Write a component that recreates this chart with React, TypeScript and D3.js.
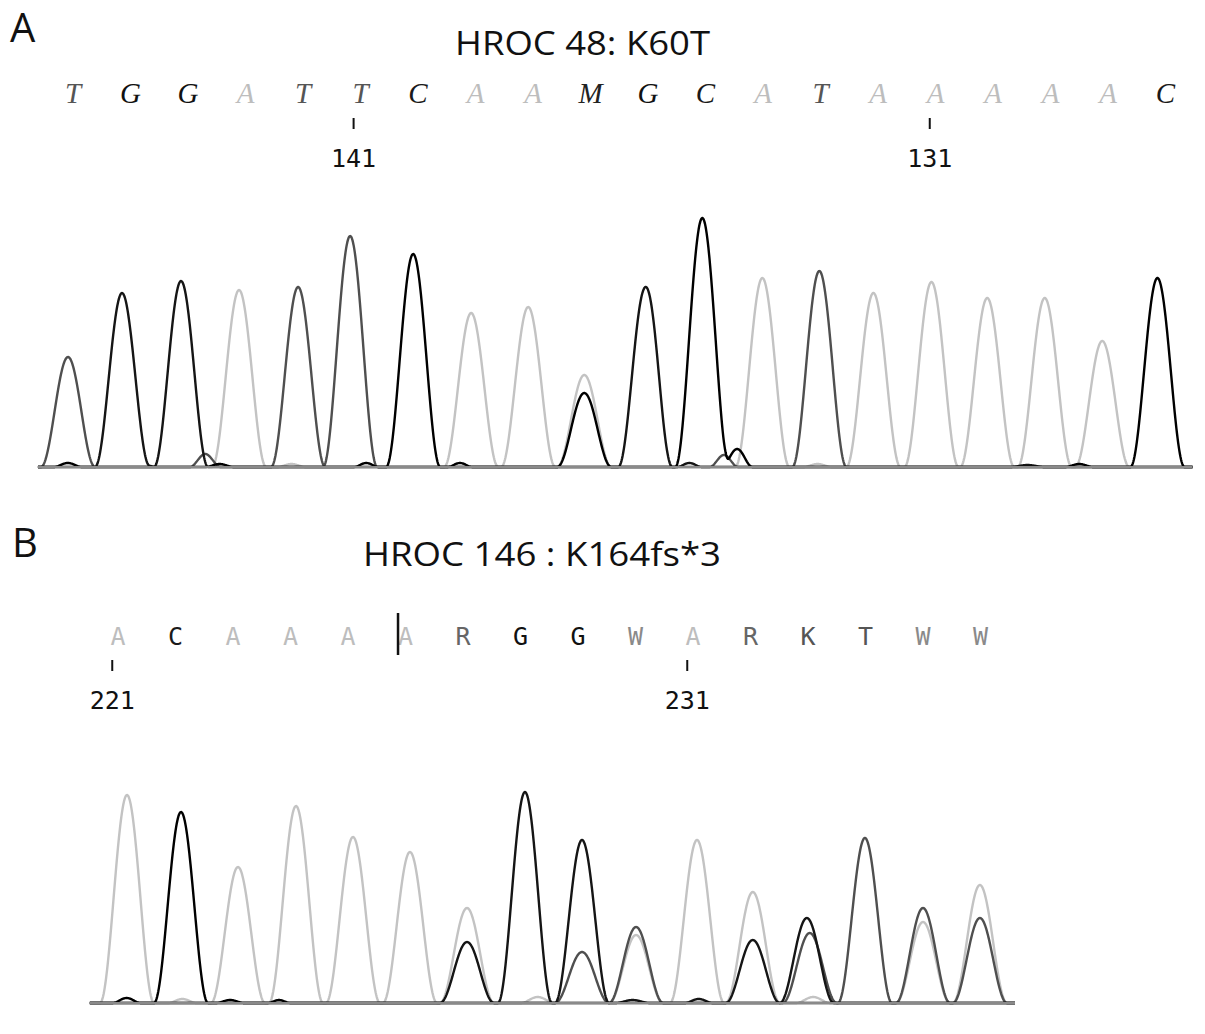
import React from "react";
import * as d3 from "d3";

// ---------- DATA ----------
// Panel A: called bases (position = base index)
const panelABases = ["T","G","G","A","T","T","C","A","A","M","G","C","A","T","A","A","A","A","A","C"];
const panelATicks = [{ pos: 4.88, label: "141" }, { pos: 14.9, label: "131" }];
// Peaks per channel: [position (base index), signal height, optional half-width]
const panelA_A: number[][] = [[2.888,177],[6.925,154],[7.917,160],[8.892,92],[11.989,189],[13.92,174],[14.93,185],[15.90,169],[16.90,169],[17.90,126],[3.8,3,0.25],[12.95,3,0.25]];
const panelA_C: number[][] = [[5.916,213],[8.892,74],[10.945,249],[18.86,189],[-0.09,4,0.25],[2.55,3,0.25],[5.1,4,0.22],[6.73,4,0.22],[11.55,18,0.27],[17.5,3,0.25]];
const panelA_G: number[][] = [[0.853,174],[1.879,186],[9.953,179],[1.2,3,0.25],[10.11,5,0.22],[10.72,4,0.22],[16.6,2,0.3]];
const panelA_T: number[][] = [[-0.087,110],[3.915,180],[4.82,231],[12.98,196],[2.3,13,0.27],[11.32,12,0.25]];

// Panel B
const panelBBases = ["A","C","A","A","A","A","R","G","G","W","A","R","K","T","W","W"];
const panelBTicks = [{ pos: -0.1, label: "221" }, { pos: 9.9, label: "231" }];
const panelBMarker = 4.87;
const panelB_A: number[][] = [[0.157,208],[2.087,136],[3.096,197],[4.087,166],[5.078,151],[6.07,95],[9.01,68],[10.07,163],[11.04,111],[14.0,81],[14.99,118],[1.12,4,0.25],[7.3,6,0.3],[12.09,6,0.3]];
const panelB_C: number[][] = [[1.096,191],[0.15,5,0.25],[1.95,3,0.25],[2.8,3,0.2]];
const panelB_G: number[][] = [[6.07,61],[7.078,211],[8.07,163],[11.04,63],[11.98,85],[8.95,3,0.3],[10.1,4,0.25]];
const panelB_T: number[][] = [[8.07,51],[9.01,76],[12.03,70],[12.99,165],[14.0,95],[14.99,85]];

// ---------- STYLE ----------
const channelColor: Record<string, string> = { A: "#c3c3c3", T: "#4f4f4f", G: "#151515", C: "#000000" };
const letterColor: Record<string, string> = {
  A: "#bdbdbd", C: "#1a1a1a", G: "#111111", T: "#555555", M: "#222222",
  R: "#666666", W: "#8a8a8a", K: "#555555",
};
const HALF_WIDTH = 0.47;

function sampleTrace(peaks: number[][], x0: number, x1: number) {
  const pts: [number, number][] = [];
  const n = Math.round((x1 - x0) / 0.01);
  for (let i = 0; i <= n; i++) {
    const x = x0 + i * 0.01;
    let v = 0;
    for (const p of peaks) {
      const c = p[0], h = p[1], hw = p[2] ?? HALF_WIDTH;
      const d = Math.abs(x - c);
      if (d < hw) v += h * Math.cos((Math.PI * d) / (2 * hw)) ** 2;
    }
    pts.push([x, v]);
  }
  return pts;
}

type PanelProps = {
  bases: string[];
  ticks: { pos: number; label: string }[];
  channels: { key: string; peaks: number[][] }[];
  xDomain: [number, number];
  xRange: [number, number];
  traceDomain: [number, number];
  baselineY: number;
  letterY: number;
  italic: boolean;
  marker?: number;
};

function Panel(p: PanelProps) {
  const x = d3.scaleLinear().domain(p.xDomain).range(p.xRange);
  const y = d3.scaleLinear().domain([0, 250]).range([p.baselineY, p.baselineY - 250]);
  const line = d3.line<[number, number]>().x((d) => x(d[0])).y((d) => y(d[1]));
  const letterFont = p.italic ? "'Liberation Serif', serif" : "'DejaVu Sans Mono', monospace";
  return (
    <g>
      {p.bases.map((b, i) => (
        <text key={"b" + i} x={x(i)} y={p.letterY} textAnchor="middle"
          fontFamily={letterFont} fontStyle={p.italic ? "italic" : "normal"}
          fontSize={p.italic ? 29 : 25} fill={letterColor[b]}>{b}</text>
      ))}
      {p.ticks.map((t, i) => (
        <g key={"t" + i}>
          <line x1={x(t.pos)} x2={x(t.pos)} y1={p.letterY + 15} y2={p.letterY + 26} stroke="#111" strokeWidth={2} />
          <text x={x(t.pos)} y={p.letterY + 64} textAnchor="middle" fontFamily="'DejaVu Sans Mono', monospace" fontSize={25} fill="#111">{t.label}</text>
        </g>
      ))}
      {p.marker !== undefined && (
        <line x1={x(p.marker)} x2={x(p.marker)} y1={p.letterY - 32} y2={p.letterY + 10} stroke="#111" strokeWidth={2.5} />
      )}
      {p.channels.map((c) => (
        <path key={c.key} d={line(sampleTrace(c.peaks, p.traceDomain[0], p.traceDomain[1])) ?? ""}
          fill="none" stroke={channelColor[c.key]} strokeWidth={2.4} strokeLinejoin="round" />
      ))}
      <line x1={x(p.traceDomain[0])} x2={x(p.traceDomain[1])} y1={y(0)} y2={y(0)} stroke="#8a8a8a" strokeWidth={2} />
    </g>
  );
}

export default function App() {
  return (
    <svg width={1205} height={1034} style={{ position: "absolute", left: 0, top: 0, background: "#fff" }}>
      <rect width={1205} height={1034} fill="#fff" />
      <text x={10} y={42} fontFamily="'Open Sans', sans-serif" fontSize={40} fill="#111">A</text>
      <text x={455} y={55} fontFamily="'Open Sans', sans-serif" fontSize={33} fill="#111" textLength={255} lengthAdjust="spacingAndGlyphs">HROC 48: K60T</text>
      <Panel bases={panelABases} ticks={panelATicks}
        channels={[{ key: "A", peaks: panelA_A }, { key: "T", peaks: panelA_T }, { key: "G", peaks: panelA_G }, { key: "C", peaks: panelA_C }]}
        xDomain={[0, 19]} xRange={[73, 1165.5]} traceDomain={[-0.61, 19.47]}
        baselineY={467} letterY={103} italic={true} />
      <text x={12} y={557} fontFamily="'Open Sans', sans-serif" fontSize={40} fill="#111">B</text>
      <text x={363} y={566} fontFamily="'Open Sans', sans-serif" fontSize={33} fill="#111" textLength={358} lengthAdjust="spacingAndGlyphs">HROC 146 : K164fs*3</text>
      <Panel bases={panelBBases} ticks={panelBTicks} marker={panelBMarker}
        channels={[{ key: "A", peaks: panelB_A }, { key: "T", peaks: panelB_T }, { key: "G", peaks: panelB_G }, { key: "C", peaks: panelB_C }]}
        xDomain={[0, 15]} xRange={[118, 980.5]} traceDomain={[-0.49, 15.6]}
        baselineY={1003} letterY={645} italic={false} />
    </svg>
  );
}
